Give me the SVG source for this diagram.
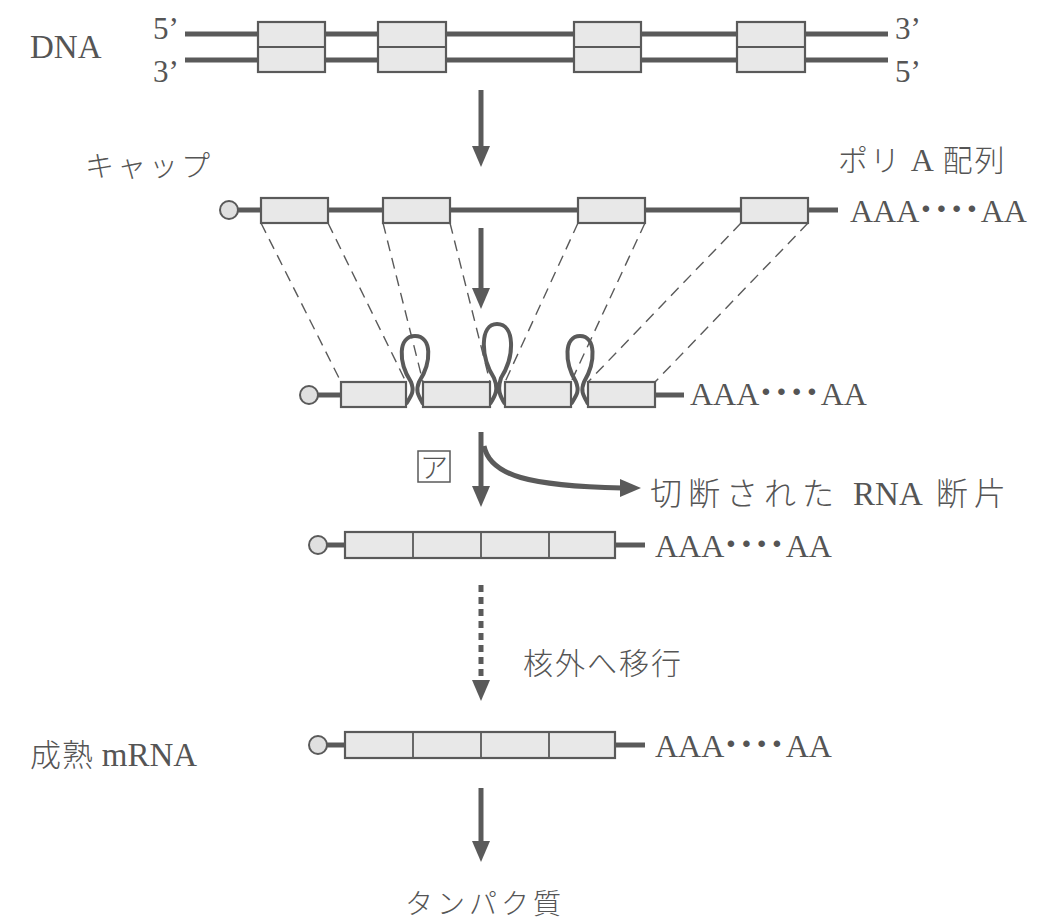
<svg xmlns="http://www.w3.org/2000/svg" width="1056" height="924" viewBox="0 0 1056 924">
<defs>
<style>
.strand{stroke:#5a5a5a;stroke-width:5;fill:none}
.box{fill:#e8e8e8;stroke:#5a5a5a;stroke-width:2.2}
.div{stroke:#5a5a5a;stroke-width:1.8}
.cap{fill:#e0e0e0;stroke:#5a5a5a;stroke-width:2}
.dash{stroke:#5a5a5a;stroke-width:1.4;stroke-dasharray:11 7;fill:none}
.loop{stroke:#5a5a5a;stroke-width:4;fill:none}
.shaft{stroke:#5a5a5a;stroke-width:5;fill:none}
.head{fill:#5a5a5a}
.t{font-family:"Liberation Serif","Noto Sans CJK JP",serif;fill:#555;font-size:32px}
.j{font-family:"Noto Sans CJK JP","Liberation Serif",sans-serif;fill:#555;font-size:28px;font-weight:300}
.dots{font-size:40px;font-weight:bold;letter-spacing:2px}
</style>
</defs>
<rect width="1056" height="924" fill="#ffffff"/>

<g id="dna">
<line class="strand" x1="185" y1="34" x2="888" y2="34"/>
<line class="strand" x1="185" y1="60" x2="888" y2="60"/>
<rect class="box" x="258" y="22" width="67" height="50"/>
<line class="div" x1="258" y1="47" x2="325" y2="47"/>
<rect class="box" x="378" y="22" width="68" height="50"/>
<line class="div" x1="378" y1="47" x2="446" y2="47"/>
<rect class="box" x="574" y="22" width="67" height="50"/>
<line class="div" x1="574" y1="47" x2="641" y2="47"/>
<rect class="box" x="737" y="22" width="68" height="50"/>
<line class="div" x1="737" y1="47" x2="805" y2="47"/>
<text class="t" x="30" y="58" style="font-size:33px">DNA</text>
<text class="t" x="153" y="39" style="font-size:31px">5’</text>
<text class="t" x="153" y="82" style="font-size:31px">3’</text>
<text class="t" x="895" y="39" style="font-size:31px">3’</text>
<text class="t" x="895" y="82" style="font-size:31px">5’</text>
</g>

<g id="pre-mrna">
<line class="strand" x1="238" y1="210" x2="838" y2="210"/>
<circle class="cap" cx="229" cy="210" r="9"/>
<rect class="box" x="261" y="198" width="67" height="25"/>
<rect class="box" x="383" y="198" width="67" height="25"/>
<rect class="box" x="578" y="198" width="67" height="25"/>
<rect class="box" x="741" y="198" width="67" height="25"/>
<text class="t" x="850" y="222">AAA<tspan class="dots">····</tspan>AA</text>
<text class="j" x="85" y="177" style="font-size:29px;letter-spacing:3px">キャップ</text>
<text class="j" x="838" y="171" style="font-size:30px;letter-spacing:2px">ポリ <tspan class="t" style="font-size:32px;letter-spacing:0">A</tspan> 配列</text>
</g>

<g id="splicing">
<line class="strand" x1="318" y1="395" x2="341" y2="395"/>
<line class="strand" x1="655" y1="395" x2="684" y2="395"/>
<circle class="cap" cx="309" cy="395" r="9"/>
<path class="loop" d="M406,404 C411,396 415,392 411,382 C398,362 398,336 415,336 C432,336 432,362 419,382 C415,392 419,396 423,404"/>
<path class="loop" d="M490,404 C495,396 499,390 494,378 C480,356 480,324 497,324 C515,324 515,356 501,378 C497,390 500,396 505,404"/>
<path class="loop" d="M571,404 C576,396 580,392 576,382 C564,362 564,336 580,336 C596,336 596,362 584,382 C580,392 584,396 588,404"/>
<rect class="box" x="341" y="382" width="65" height="25"/>
<rect class="box" x="423" y="382" width="67" height="25"/>
<rect class="box" x="505" y="382" width="66" height="25"/>
<rect class="box" x="588" y="382" width="67" height="25"/>
<text class="t" x="690" y="405">AAA<tspan class="dots">····</tspan>AA</text>
</g>

<g id="spliced">
<line class="strand" x1="327" y1="545" x2="345" y2="545"/>
<line class="strand" x1="615" y1="545" x2="645" y2="545"/>
<circle class="cap" cx="318" cy="545" r="9"/>
<rect class="box" x="345" y="532" width="270" height="26"/>
<line class="div" x1="413" y1="532" x2="413" y2="558"/>
<line class="div" x1="481" y1="532" x2="481" y2="558"/>
<line class="div" x1="549" y1="532" x2="549" y2="558"/>
<text class="t" x="655" y="557">AAA<tspan class="dots">····</tspan>AA</text>
</g>

<g id="mature-mrna">
<line class="strand" x1="327" y1="745" x2="345" y2="745"/>
<line class="strand" x1="615" y1="745" x2="645" y2="745"/>
<circle class="cap" cx="318" cy="745" r="9"/>
<rect class="box" x="345" y="732" width="270" height="26"/>
<line class="div" x1="413" y1="732" x2="413" y2="758"/>
<line class="div" x1="481" y1="732" x2="481" y2="758"/>
<line class="div" x1="549" y1="732" x2="549" y2="758"/>
<text class="t" x="655" y="757">AAA<tspan class="dots">····</tspan>AA</text>
<text class="j" x="30" y="766" style="font-size:31px;letter-spacing:1px">成熟 <tspan class="t" style="font-size:33px;letter-spacing:0">mRNA</tspan></text>
</g>

<g id="labels">
<rect x="418" y="451" width="32" height="31" fill="none" stroke="#5a5a5a" stroke-width="1.5"/>
<text class="j" x="420" y="478" style="font-size:28px">ア</text>
<text class="j" x="650" y="505" style="font-size:32px;letter-spacing:6px">切断された <tspan class="t" style="font-size:33px;letter-spacing:0">RNA</tspan> 断片</text>
<text class="j" x="523" y="674" style="font-size:30px;letter-spacing:2px">核外へ移行</text>
<text class="j" x="405" y="914" style="font-size:28px;letter-spacing:4px">タンパク質</text>
</g>

<g id="connectors">
<line class="dash" x1="261" y1="223" x2="341" y2="382"/>
<line class="dash" x1="328" y1="223" x2="406" y2="382"/>
<line class="dash" x1="383" y1="223" x2="423" y2="382"/>
<line class="dash" x1="450" y1="223" x2="490" y2="382"/>
<line class="dash" x1="578" y1="223" x2="505" y2="382"/>
<line class="dash" x1="645" y1="223" x2="571" y2="382"/>
<line class="dash" x1="741" y1="223" x2="588" y2="382"/>
<line class="dash" x1="808" y1="223" x2="655" y2="382"/>

<line class="shaft" x1="481" y1="90" x2="481" y2="148"/>
<polygon class="head" points="472,146 490,146 481,167"/>
<line class="shaft" x1="481" y1="228" x2="481" y2="290"/>
<polygon class="head" points="472,288 490,288 481,309"/>
<line class="shaft" x1="481" y1="432" x2="481" y2="488"/>
<polygon class="head" points="472,486 490,486 481,507"/>
<path class="shaft" d="M484,446 C490,476 530,486 622,488"/>
<polygon class="head" points="620,479 641,488 620,497"/>
<line class="shaft" x1="481" y1="585" x2="481" y2="682" stroke-dasharray="7 5"/>
<polygon class="head" points="472,680 490,680 481,701"/>
<line class="shaft" x1="481" y1="788" x2="481" y2="843"/>
<polygon class="head" points="472,841 490,841 481,862"/>
</g>
</svg>
